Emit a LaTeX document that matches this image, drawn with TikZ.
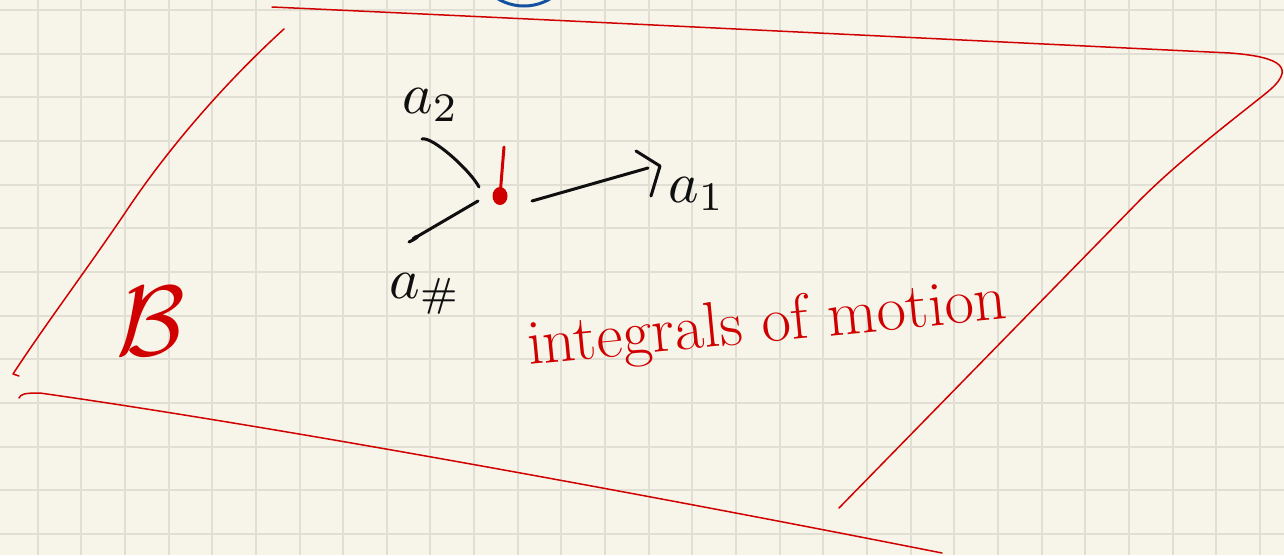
\documentclass[tikz,border=0pt]{standalone}
\usepackage{graphicx}
\usetikzlibrary{shapes.geometric}
\definecolor{paper}{RGB}{247,245,234}
\definecolor{gridc}{RGB}{225,223,211}
\definecolor{redpen}{RGB}{208,0,0}
\definecolor{bluepen}{RGB}{20,80,160}
\definecolor{blackpen}{RGB}{15,15,15}
\tikzset{
  gridline/.style={draw=gridc, line width=2pt},
  planeedge/.style={draw=redpen, line width=1.5pt, line cap=round, line join=round},
  inkstroke/.style={draw=blackpen, line width=3pt, line cap=round, line join=round},
  redstroke/.style={draw=redpen, line width=3pt, line cap=round},
  inklabel/.style={text=blackpen, inner sep=0pt},
  redlabel/.style={text=redpen, inner sep=0pt},
}
\begin{document}
\begin{tikzpicture}[x=1pt,y=-1pt]
\clip (0,0) rectangle (1284,555);
\fill[paper] (0,0) rectangle (1284,555);
% grid paper
\foreach \k in {0,...,28} {\draw[gridline] ({37.6+43.65*\k},0) -- ({37.6+43.65*\k},555);}
\foreach \k in {0,...,12} {\draw[gridline] (0,{10+43.65*\k}) -- (1284,{10+43.65*\k});}
% blue arc at the top edge
\draw[bluepen, line width=3pt] (524,-45) circle (51);
% the plane B
\draw[planeedge] (272,7) .. controls (600,22) and (1000,42) .. (1230,53)
  .. controls (1282,57) and (1298,68) .. (1265,94)
  .. controls (1230,122) and (1180,160) .. (1140,200) -- (839,508);
\draw[planeedge] (284,29) .. controls (230,78) and (170,145) .. (125,213)
  .. controls (85,272) and (45,325) .. (13,374) -- (19,376);
\draw[planeedge] (19,398) .. controls (21,394) and (24,393) .. (40,393)
  .. controls (300,430) and (700,505) .. (942,553);
\node[redlabel, anchor=base west] (B) at (116,355) {\scalebox{10}{$\mathcal{B}$}};
% the point and its directions
\node[ellipse, fill=redpen, inner sep=0pt, minimum width=15pt, minimum height=18pt] (dot) at (500,196) {};
\coordinate (stem) at (504,147);
\draw[redstroke] (dot.center) -- (stem);
\node[inklabel, anchor=base west] (a2) at (402,113) {\scalebox{5.8}{$a_2$}};
\node[inklabel, anchor=base west] (a1) at (668,202) {\scalebox{5.8}{$a_1$}};
\node[inklabel, anchor=base west] (ah) at (389,298) {\scalebox{5.8}{$a_\#$}};
\coordinate (s2) at (422,139);
\coordinate (e2) at (479,187);
\coordinate (sh) at (478,201);
\coordinate (eh) at (409,242);
\coordinate (s1) at (532,201);
\coordinate (e1) at (648,168);
\coordinate (t1) at (660,166);
\draw[inkstroke] (s2) .. controls (432,136) and (470,170) .. (e2);
\draw[inkstroke] (sh) -- (413,239) .. controls (418,234) and (422,236) .. (eh);
\draw[inkstroke] (s1) -- (e1);
\draw[inkstroke] (636,151) -- (t1) -- (651,196);
% caption
\node[redlabel, rotate=5.5, font=\fontsize{64}{66}\selectfont] (cap) at (767,326) {integrals of motion};
\end{tikzpicture}
\end{document}
